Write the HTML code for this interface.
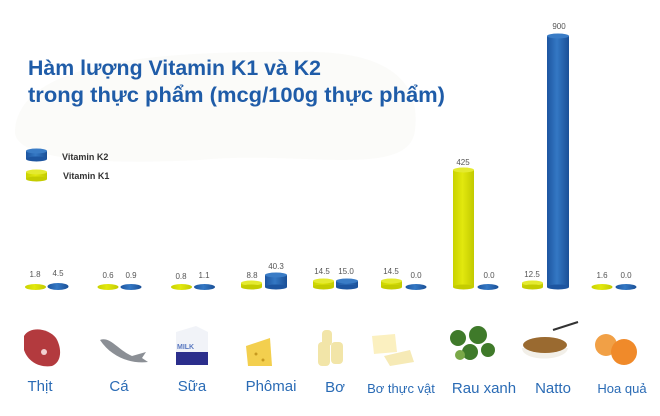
<!DOCTYPE html>
<html><head><meta charset="utf-8"><style>
html,body{margin:0;padding:0;background:#fff;}
svg{display:block;}
</style></head><body>
<svg width="660" height="416" viewBox="0 0 660 416" xmlns="http://www.w3.org/2000/svg" font-family="'Liberation Sans','Noto Sans CJK SC',sans-serif">
<defs>
<linearGradient id="gb" x1="0" x2="1"><stop offset="0" stop-color="#1d55a0"/><stop offset="0.45" stop-color="#3478c4"/><stop offset="1" stop-color="#1a4f96"/></linearGradient>
<linearGradient id="gy" x1="0" x2="1"><stop offset="0" stop-color="#c9d200"/><stop offset="0.45" stop-color="#e2e80e"/><stop offset="1" stop-color="#c2ca00"/></linearGradient>
</defs>
<rect width="660" height="416" fill="#fff"/>
<path d="M15 130 C 20 70 120 50 300 52 C 400 50 420 90 415 130 C 410 180 300 150 200 160 C 100 165 12 160 15 130Z" fill="#fbfbf9"/>
<text x="28" y="75" font-size="21.3" font-weight="bold" fill="#1f5ca8">Hàm lượng Vitamin K1 và K2</text>
<text x="28" y="102" font-size="21.3" font-weight="bold" fill="#1f5ca8" textLength="417" lengthAdjust="spacingAndGlyphs">trong thực phẩm (mcg/100g thực phẩm)</text>
<!-- legend -->
<rect x="26" y="151" width="21" height="8" fill="url(#gb)"/><ellipse cx="36.5" cy="151" rx="10.5" ry="2.5" fill="#3a7cc6"/><ellipse cx="36.5" cy="159" rx="10.5" ry="2.5" fill="#1d55a0"/>
<rect x="26" y="172" width="21" height="7" fill="url(#gy)"/><ellipse cx="36.5" cy="172" rx="10.5" ry="2.5" fill="#e4ea30"/><ellipse cx="36.5" cy="179" rx="10.5" ry="2.5" fill="#c4cc00"/>
<text x="62" y="160" font-size="9" font-weight="bold" fill="#333">Vitamin K2</text>
<text x="63" y="179" font-size="9" font-weight="bold" fill="#333">Vitamin K1</text>
<g font-size="8" fill="#555" text-anchor="middle">
<ellipse cx="35.5" cy="287" rx="10.5" ry="3" fill="url(#gy)"/><text x="35" y="277">1.8</text>
<ellipse cx="58" cy="286.5" rx="10.5" ry="3.5" fill="url(#gb)"/><text x="58" y="276">4.5</text>
<ellipse cx="108" cy="287" rx="10.5" ry="3" fill="url(#gy)"/><text x="108" y="278">0.6</text>
<ellipse cx="131" cy="287" rx="10.5" ry="3" fill="url(#gb)"/><text x="131" y="278">0.9</text>
<ellipse cx="181.5" cy="287" rx="10.5" ry="3" fill="url(#gy)"/><text x="181" y="279">0.8</text>
<ellipse cx="204.5" cy="287" rx="10.5" ry="3" fill="url(#gb)"/><text x="204" y="278">1.1</text>
<rect x="241" y="283" width="21" height="4" fill="url(#gy)"/><ellipse cx="251.5" cy="283" rx="10.5" ry="2.5" fill="#e4ea30"/><ellipse cx="251.5" cy="287" rx="10.5" ry="2.5" fill="#c4cc00"/><text x="252" y="278">8.8</text>
<rect x="265" y="275" width="22" height="12" fill="url(#gb)"/><ellipse cx="276" cy="275" rx="11" ry="2.5" fill="#3a7cc6"/><ellipse cx="276" cy="287" rx="11" ry="2.5" fill="#1d55a0"/><text x="276" y="269">40.3</text>
<rect x="313" y="281" width="21" height="6" fill="url(#gy)"/><ellipse cx="323.5" cy="281" rx="10.5" ry="2.5" fill="#e4ea30"/><ellipse cx="323.5" cy="287" rx="10.5" ry="2.5" fill="#c4cc00"/><text x="322" y="274">14.5</text>
<rect x="336" y="281" width="22" height="6" fill="url(#gb)"/><ellipse cx="347" cy="281" rx="11" ry="2.5" fill="#3a7cc6"/><ellipse cx="347" cy="287" rx="11" ry="2.5" fill="#1d55a0"/><text x="346" y="274">15.0</text>
<rect x="381" y="281" width="21" height="6" fill="url(#gy)"/><ellipse cx="391.5" cy="281" rx="10.5" ry="2.5" fill="#e4ea30"/><ellipse cx="391.5" cy="287" rx="10.5" ry="2.5" fill="#c4cc00"/><text x="391" y="274">14.5</text>
<ellipse cx="416" cy="287" rx="10.5" ry="3" fill="url(#gb)"/><text x="416" y="278">0.0</text>
<rect x="453" y="170" width="21" height="117" fill="url(#gy)"/><ellipse cx="463.5" cy="170" rx="10.5" ry="2.5" fill="#e4ea30"/><ellipse cx="463.5" cy="287" rx="10.5" ry="2.5" fill="#c4cc00"/><text x="463" y="165">425</text>
<ellipse cx="488" cy="287" rx="10.5" ry="3" fill="url(#gb)"/><text x="489" y="278">0.0</text>
<rect x="522" y="283" width="21" height="4" fill="url(#gy)"/><ellipse cx="532.5" cy="283" rx="10.5" ry="2.5" fill="#e4ea30"/><ellipse cx="532.5" cy="287" rx="10.5" ry="2.5" fill="#c4cc00"/><text x="532" y="277">12.5</text>
<rect x="547" y="36" width="22" height="251" fill="url(#gb)"/><ellipse cx="558" cy="36" rx="11" ry="2.5" fill="#3a7cc6"/><ellipse cx="558" cy="287" rx="11" ry="2.5" fill="#1d55a0"/><text x="559" y="29">900</text>
<ellipse cx="602" cy="287" rx="10.5" ry="3" fill="url(#gy)"/><text x="602" y="278">1.6</text>
<ellipse cx="626" cy="287" rx="10.5" ry="3" fill="url(#gb)"/><text x="626" y="278">0.0</text>
</g>
<path d="M24 336 C30 326 48 328 56 338 C62 348 62 362 52 366 C40 368 28 362 24 350Z" fill="#b33a3e"/>
<circle cx="44" cy="352" r="3" fill="#f1d0d0"/>
<path d="M100 340 C110 336 118 350 132 356 L146 352 L142 358 L148 362 C132 364 112 358 100 340Z" fill="#8b8f95"/>
<path d="M176 332 L196 326 L208 332 L208 364 L176 364Z" fill="#f1f3f8"/><rect x="176" y="352" width="32" height="13" fill="#2b2e8c"/><text x="177" y="349" font-size="7" font-weight="bold" fill="#5a78c0">MILK</text>
<path d="M246 346 L270 338 L272 366 L248 366Z" fill="#f3cf4e"/><circle cx="256" cy="354" r="1.5" fill="#c79a20"/><circle cx="263" cy="360" r="1.5" fill="#c79a20"/>
<g fill="#f2e5a8"><rect x="318" y="342" width="12" height="24" rx="4"/><rect x="331" y="342" width="12" height="22" rx="4"/><rect x="322" y="330" width="10" height="16" rx="4"/></g>
<path d="M372 336 L395 334 L397 352 L374 354Z" fill="#fbf0c0"/><path d="M384 356 L410 350 L414 362 L390 366Z" fill="#f6eab6"/>
<g fill="#3f7a2a"><circle cx="458" cy="338" r="8"/><circle cx="478" cy="335" r="9"/><circle cx="470" cy="352" r="8"/><circle cx="488" cy="350" r="7"/><circle cx="460" cy="355" r="5" fill="#7aa848"/></g>
<path d="M522 348 C522 362 566 362 568 348Z" fill="#f2efe8"/><ellipse cx="545" cy="345" rx="22" ry="8" fill="#9a6a30"/><line x1="553" y1="330" x2="578" y2="322" stroke="#333" stroke-width="2"/>
<circle cx="606" cy="345" r="11" fill="#f1a046"/><circle cx="624" cy="352" r="13" fill="#f08a2a"/>
<g fill="#2a6bb5" font-size="15" text-anchor="middle">
<text x="40" y="391">Thịt</text>
<text x="119" y="391">Cá</text>
<text x="192" y="391">Sữa</text>
<text x="271" y="391">Phômai</text>
<text x="335" y="392">Bơ</text>
<text x="401" y="393" font-size="13">Bơ thực vật</text>
<text x="484" y="393">Rau xanh</text>
<text x="553" y="393">Natto</text>
<text x="622" y="393" font-size="13">Hoa quả</text>
</g>
</svg>
</body></html>
